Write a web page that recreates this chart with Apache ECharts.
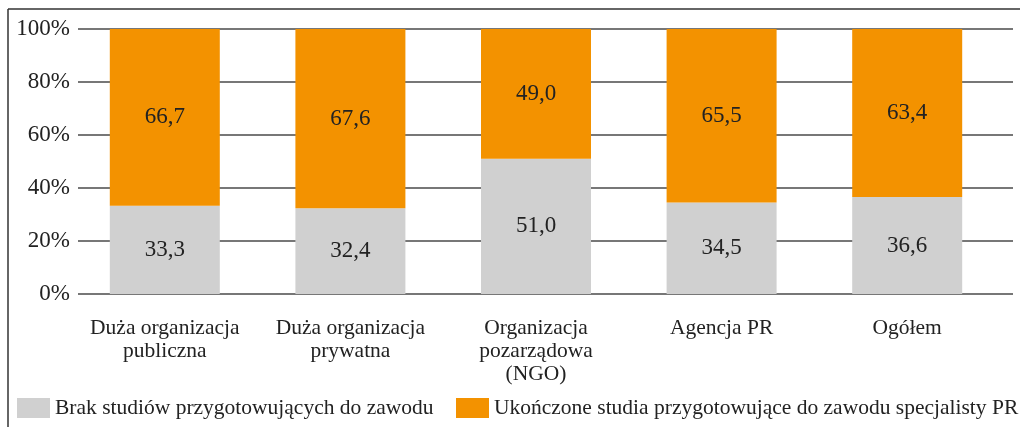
<!DOCTYPE html>
<html>
<head>
    <meta charset="UTF-8">
    <title>Studia przygotowujące do zawodu specjalisty PR</title>
    <script src="https://cdn.jsdelivr.net/npm/echarts@6.0.0/dist/echarts.min.js"></script>
    <style>
        * { margin: 0; padding: 0; box-sizing: border-box; }
        body { background: #fff; }
        #chart { width: 1020px; height: 427px; }
    </style>
</head>
<body>
    <div id="chart"></div>
    <script>
        const categories = ['Duża organizacja\npubliczna', 'Duża organizacja\nprywatna', 'Organizacja\npozarządowa\n(NGO)', 'Agencja PR', 'Ogółem'];
        const brakStudiow = [33.3, 32.4, 51.0, 34.5, 36.6];
        const ukonczoneStudia = [66.7, 67.6, 49.0, 65.5, 63.4];
        const seriesNames = ['Brak studiów przygotowujących do zawodu', 'Ukończone studia przygotowujące do zawodu specjalisty PR'];

        const font = '"Liberation Serif", "Times New Roman", serif';
        const chart = echarts.init(document.getElementById('chart'));

        function valueLabel(p) {
            return p.value.toFixed(1).replace('.', ',');
        }

        // one legend per item so the long second entry does not wrap
        const legendBase = {
            top: 392,
            icon: 'rect',
            itemWidth: 33,
            itemHeight: 20,
            padding: 5,
            textStyle: { fontFamily: font, fontSize: 21.5, color: '#222' }
        };

        const option = {
            animation: false,
            textStyle: { fontFamily: font, color: '#222' },
            graphic: [
                { type: 'line', shape: { x1: 8, y1: 9, x2: 1020, y2: 9 }, style: { stroke: '#333', lineWidth: 1.5 } },
                { type: 'line', shape: { x1: 8, y1: 9, x2: 8, y2: 427 }, style: { stroke: '#333', lineWidth: 1.5 } }
            ],
            legend: [
                Object.assign({}, legendBase, { data: [seriesNames[0]], left: 12 }),
                Object.assign({}, legendBase, { data: [seriesNames[1]], left: 451 })
            ],
            grid: [
                { left: 78, right: 7, top: 29, bottom: 133 },
                { left: 72, right: 20, top: 29, bottom: 133 }
            ],
            xAxis: [
                { type: 'value', gridIndex: 0, show: false },
                {
                    type: 'category',
                    gridIndex: 1,
                    data: categories,
                    axisLine: { show: false },
                    axisTick: { show: false },
                    axisLabel: { fontFamily: font, fontSize: 21.5, lineHeight: 23, color: '#222', margin: 23, interval: 0 }
                }
            ],
            yAxis: [
                {
                    type: 'value',
                    gridIndex: 0,
                    min: 0,
                    max: 100,
                    interval: 20,
                    axisLine: { show: false },
                    axisTick: { show: false },
                    axisLabel: { formatter: '{value}%', fontFamily: font, fontSize: 23, color: '#222', margin: 8 },
                    splitLine: { lineStyle: { color: '#4a4a4a', width: 1.5 } }
                },
                { type: 'value', gridIndex: 1, min: 0, max: 100, show: false, splitLine: { show: false } }
            ],
            series: [
                {
                    name: seriesNames[0],
                    type: 'bar',
                    stack: 'total',
                    xAxisIndex: 1,
                    yAxisIndex: 1,
                    barWidth: 110,
                    data: brakStudiow,
                    itemStyle: { color: '#d0d0d0' },
                    label: { show: true, position: 'inside', formatter: valueLabel, fontFamily: font, fontSize: 23, color: '#222' }
                },
                {
                    name: seriesNames[1],
                    type: 'bar',
                    stack: 'total',
                    xAxisIndex: 1,
                    yAxisIndex: 1,
                    barWidth: 110,
                    data: ukonczoneStudia,
                    itemStyle: { color: '#f39200' },
                    label: { show: true, position: 'inside', formatter: valueLabel, fontFamily: font, fontSize: 23, color: '#222' }
                }
            ]
        };

        chart.setOption(option);
    </script>
</body>
</html>
